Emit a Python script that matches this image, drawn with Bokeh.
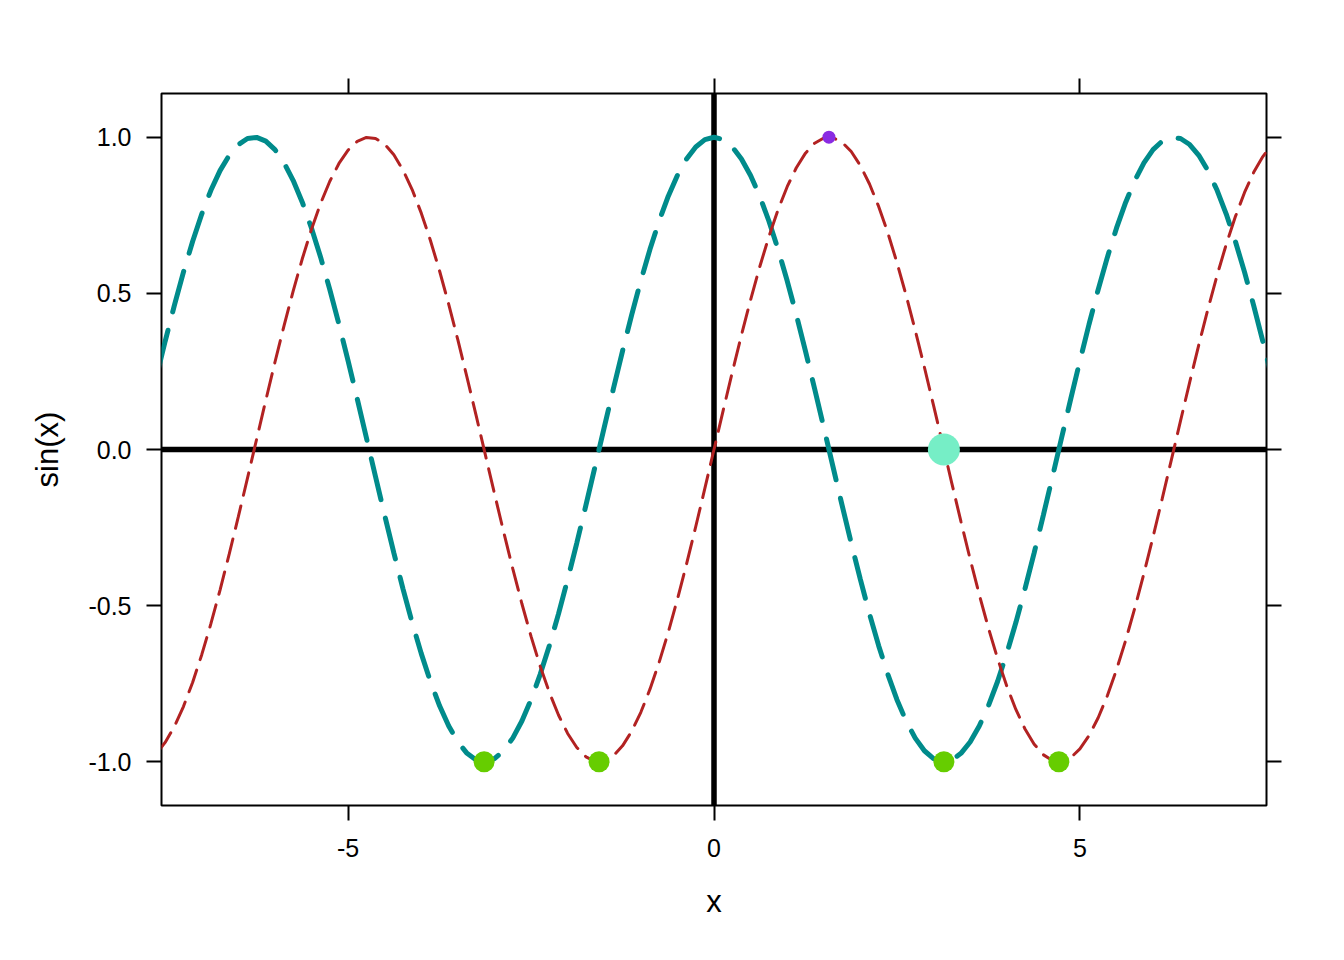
from bokeh.plotting import figure
from bokeh.models import Range1d, FixedTicker, LinearAxis, Span, PrintfTickFormatter, CustomJSTickFormatter
from bokeh.embed import file_html
from bokeh.resources import INLINE

# ---- data (sin(x) and cos(x) curves) ----
x_vals = [
    -7.6, -7.5, -7.375, -7.25, -7.125, -7.0, -6.875, -6.75,
    -6.625, -6.5, -6.375, -6.25, -6.125, -6.0, -5.875, -5.75,
    -5.625, -5.5, -5.375, -5.25, -5.125, -5.0, -4.875, -4.75,
    -4.625, -4.5, -4.375, -4.25, -4.125, -4.0, -3.875, -3.75,
    -3.625, -3.5, -3.375, -3.25, -3.125, -3.0, -2.875, -2.75,
    -2.625, -2.5, -2.375, -2.25, -2.125, -2.0, -1.875, -1.75,
    -1.625, -1.5, -1.375, -1.25, -1.125, -1.0, -0.875, -0.75,
    -0.625, -0.5, -0.375, -0.25, -0.125,
    0.0, 0.125, 0.25, 0.375, 0.5, 0.625, 0.75, 0.875,
    1.0, 1.125, 1.25, 1.375, 1.5, 1.625, 1.75, 1.875,
    2.0, 2.125, 2.25, 2.375, 2.5, 2.625, 2.75, 2.875,
    3.0, 3.125, 3.25, 3.375, 3.5, 3.625, 3.75, 3.875,
    4.0, 4.125, 4.25, 4.375, 4.5, 4.625, 4.75, 4.875,
    5.0, 5.125, 5.25, 5.375, 5.5, 5.625, 5.75, 5.875,
    6.0, 6.125, 6.25, 6.375, 6.5, 6.625, 6.75, 6.875,
    7.0, 7.125, 7.25, 7.375, 7.5, 7.6,
]

sin_vals = [
    -0.9679, -0.9380, -0.8875, -0.8231, -0.7459, -0.6570, -0.5578, -0.4500,
    -0.3352, -0.2151, -0.0917, 0.0332, 0.1574, 0.2794, 0.3968, 0.5082,
    0.6116, 0.7055, 0.7884, 0.8589, 0.9160, 0.9589, 0.9868, 0.9993,
    0.9962, 0.9775, 0.9436, 0.8950, 0.8324, 0.7568, 0.6694, 0.5716,
    0.4649, 0.3508, 0.2311, 0.1082, -0.0166, -0.1411, -0.2635, -0.3817,
    -0.4940, -0.5985, -0.6940, -0.7781, -0.8502, -0.9093, -0.9541, -0.9840,
    -0.9985, -0.9975, -0.9809, -0.9490, -0.9023, -0.8415, -0.7675, -0.6816,
    -0.5851, -0.4794, -0.3663, -0.2474, -0.1247,
    0.0, 0.1247, 0.2474, 0.3663, 0.4794, 0.5851, 0.6816, 0.7675,
    0.8415, 0.9023, 0.9490, 0.9809, 0.9975, 0.9985, 0.9840, 0.9541,
    0.9093, 0.8502, 0.7781, 0.6940, 0.5985, 0.4940, 0.3817, 0.2635,
    0.1411, 0.0166, -0.1082, -0.2311, -0.3508, -0.4649, -0.5716, -0.6694,
    -0.7568, -0.8324, -0.8950, -0.9436, -0.9775, -0.9962, -0.9993, -0.9868,
    -0.9589, -0.9160, -0.8589, -0.7884, -0.7055, -0.6116, -0.5082, -0.3968,
    -0.2794, -0.1574, -0.0332, 0.0917, 0.2151, 0.3352, 0.4500, 0.5578,
    0.6570, 0.7459, 0.8231, 0.8875, 0.9380, 0.9679,
]

cos_vals = [
    0.2513, 0.3466, 0.4608, 0.5679, 0.6661, 0.7539, 0.8300, 0.8930,
    0.9421, 0.9766, 0.9958, 0.9994, 0.9875, 0.9602, 0.9179, 0.8612,
    0.7912, 0.7087, 0.6152, 0.5121, 0.4011, 0.2837, 0.1621, 0.0376,
    -0.0873, -0.2108, -0.3311, -0.4461, -0.5542, -0.6536, -0.7429, -0.8206,
    -0.8854, -0.9365, -0.9729, -0.9941, -0.9999, -0.9900, -0.9647, -0.9243,
    -0.8695, -0.8011, -0.7200, -0.6282, -0.5265, -0.4161, -0.2995, -0.1782,
    -0.0542, 0.0707, 0.1945, 0.3153, 0.4312, 0.5403, 0.6410, 0.7317,
    0.8110, 0.8776, 0.9305, 0.9689, 0.9922,
    1.0, 0.9922, 0.9689, 0.9305, 0.8776, 0.8110, 0.7317, 0.6410,
    0.5403, 0.4312, 0.3153, 0.1945, 0.0707, -0.0542, -0.1782, -0.2995,
    -0.4161, -0.5265, -0.6282, -0.7200, -0.8011, -0.8695, -0.9243, -0.9647,
    -0.9900, -0.9999, -0.9941, -0.9729, -0.9365, -0.8854, -0.8206, -0.7429,
    -0.6536, -0.5542, -0.4461, -0.3311, -0.2108, -0.0873, 0.0376, 0.1621,
    0.2837, 0.4011, 0.5121, 0.6152, 0.7087, 0.7912, 0.8612, 0.9179,
    0.9602, 0.9875, 0.9994, 0.9958, 0.9766, 0.9421, 0.8930, 0.8300,
    0.7539, 0.6661, 0.5679, 0.4608, 0.3466, 0.2513,
]

peak_x = [1.5708]
peak_y = [1.0]
zero_x = [3.1416]
zero_y = [0.0]
trough_x = [-3.1416, -1.5708, 3.1416, 4.7124]
trough_y = [-1.0, -1.0, -1.0, -1.0]

x_ticks = [-5, 0, 5]
y_ticks = [-1.0, -0.5, 0.0, 0.5, 1.0]
x_label = "x"
y_label = "sin(x)"

FONT = "Liberation Sans"

p = figure(
    width=1336, height=952,
    x_range=Range1d(-7.55, 7.55), y_range=Range1d(-1.14, 1.14),
    output_backend="svg", toolbar_location=None,
    min_border_left=161, min_border_right=70,
    min_border_top=93, min_border_bottom=147,
    x_axis_label=x_label, y_axis_label=y_label,
)
p.background_fill_color = "white"
p.border_fill_color = "white"
p.outline_line_color = "black"
p.outline_line_width = 2
p.xgrid.visible = False
p.ygrid.visible = False

# reference lines at x=0 and y=0 (below curves)
p.add_layout(Span(location=0, dimension="height", line_color="black",
                  line_width=5.5, level="underlay"))
p.add_layout(Span(location=0, dimension="width", line_color="black",
                  line_width=5.5, level="underlay"))

# curves
p.line(x_vals, cos_vals, line_color="#008B8B", line_width=5,
       line_dash="42 19", line_cap="round")
p.line(x_vals, sin_vals, line_color="#B22222", line_width=3,
       line_dash="23 11", line_cap="round")

# points
p.scatter(trough_x, trough_y, size=21, color="#66CD00", line_color=None)
p.scatter(zero_x, zero_y, size=32, color="#76EEC6", line_color=None)
p.scatter(peak_x, peak_y, size=13, color="#8A2BE2", line_color=None)


def style_axis(ax, ticks, show_labels):
    ax.ticker = FixedTicker(ticks=ticks, minor_ticks=[])
    ax.axis_line_color = None
    ax.major_tick_out = 15
    ax.major_tick_in = 0
    ax.major_tick_line_width = 2
    ax.major_tick_line_color = "black"
    ax.minor_tick_line_color = None
    ax.major_label_text_font = FONT
    ax.major_label_text_font_size = "25px"
    ax.major_label_text_color = "black"
    ax.axis_label_text_font = FONT
    ax.axis_label_text_font_size = "31px"
    ax.axis_label_text_font_style = "normal"
    ax.axis_label_text_color = "black"
    if not show_labels:
        ax.formatter = CustomJSTickFormatter(code="return ''")


xb = p.xaxis[0]
style_axis(xb, x_ticks, True)
xb.formatter = PrintfTickFormatter(format="%d")
xb.major_label_standoff = 18
xb.axis_label_standoff = 24

yl = p.yaxis[0]
style_axis(yl, y_ticks, True)
yl.formatter = PrintfTickFormatter(format="%.1f")
yl.major_label_standoff = 15
yl.axis_label_standoff = 20
yl.major_label_orientation = "horizontal"

xt = LinearAxis()
style_axis(xt, x_ticks, False)
p.add_layout(xt, "above")

yr = LinearAxis()
style_axis(yr, y_ticks, False)
p.add_layout(yr, "right")

open("out.html", "w").write(file_html(p, INLINE))
